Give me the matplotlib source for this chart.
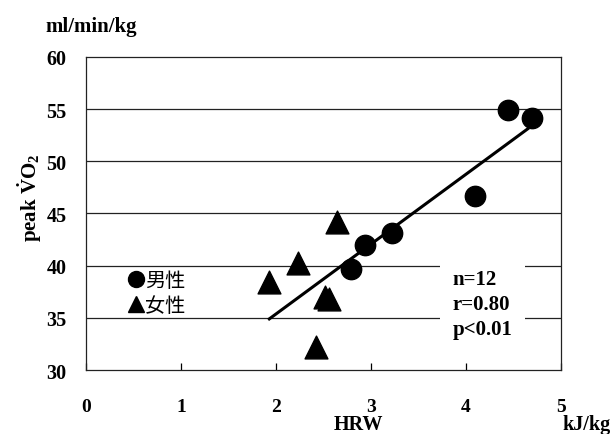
import matplotlib
matplotlib.use("Agg")
import matplotlib.pyplot as plt
from matplotlib.lines import Line2D

# ── Data ────────────────────────────────────────────────────────────────────
male_hrw = [4.44, 4.70, 4.10, 3.22, 2.94, 2.79]
male_vo2 = [54.9, 54.1, 46.7, 43.1, 42.0, 39.7]
female_hrw = [2.64, 2.23, 1.93, 2.52, 2.56, 2.42]
female_vo2 = [44.2, 40.3, 38.4, 37.0, 36.8, 32.2]
fit_x = [1.93, 4.65]
fit_y = [34.9, 53.1]
x_ticks = [0, 1, 2, 3, 4, 5]
y_ticks = [30, 35, 40, 45, 50, 55, 60]
legend_labels = ["男性", "女性"]
stats_text = "n=12\nr=0.80\np<0.01"

# ── Style ───────────────────────────────────────────────────────────────────
plt.rcParams["font.family"] = "Liberation Serif"
plt.rcParams["font.weight"] = "bold"
plt.rcParams["mathtext.fontset"] = "custom"
plt.rcParams["mathtext.rm"] = "Liberation Serif:bold"
plt.rcParams["mathtext.it"] = "Liberation Serif:bold"
plt.rcParams["mathtext.bf"] = "Liberation Serif:bold"

fig = plt.figure(figsize=(6.12, 4.35), dpi=100)
ax = fig.add_axes([0.1405, 0.147, 0.776, 0.72])

ax.set_xlim(0, 5)
ax.set_ylim(30, 60)

for y in y_ticks[1:-1]:
    ax.axhline(y, color="#222222", linewidth=0.9, zorder=1)

ax.plot(fit_x, fit_y, color="black", linewidth=2.2, zorder=3)
ax.scatter(male_hrw, male_vo2, s=215, marker="o", color="black", zorder=4)
ax.scatter(female_hrw, female_vo2, s=270, marker="^", color="black", zorder=4)

for sp in ax.spines.values():
    sp.set_linewidth(0.9)
    sp.set_color("#222222")

ax.set_xticks(x_ticks)
ax.set_yticks(y_ticks)
ax.tick_params(axis="x", direction="in", length=5, width=0.9, pad=20, labelsize=14)
ax.tick_params(axis="y", direction="in", length=0, pad=14, labelsize=14.5)
for lab in ax.get_xticklabels() + ax.get_yticklabels():
    lab.set_fontweight("bold")

# legend: marker glyphs roughly the size of the text, as in the source figure
handles = [
    Line2D([], [], linestyle="none", marker="o", markersize=11.5, color="black"),
    Line2D([], [], linestyle="none", marker="^", markersize=11.5, color="black"),
]
ax.legend(handles, legend_labels, loc="upper left",
          bbox_to_anchor=(0.072, 0.345), frameon=False,
          handletextpad=0.05, handlelength=0.8, labelspacing=0.2,
          borderaxespad=0,
          prop={"family": ["Noto Sans CJK JP"], "size": 14.5, "weight": "normal"})

ax.text(0.772, 0.212, stats_text, transform=ax.transAxes, ha="left", va="center",
        fontsize=15, fontweight="bold", linespacing=1.33, zorder=5,
        bbox=dict(facecolor="white", edgecolor="none", pad=9))

fig.text(0.149, 0.937, "ml/min/kg", ha="center", va="center", fontsize=15, fontweight="bold")
fig.text(0.585, 0.022, "HRW", ha="center", va="center", fontsize=14.5, fontweight="bold")
fig.text(0.958, 0.022, "kJ/kg", ha="center", va="center", fontsize=14.5, fontweight="bold")
fig.text(0.048, 0.545, r"peak $\dot{V}\mathrm{O}_2$", rotation=90, ha="center",
         va="center", fontsize=15, fontweight="bold")

fig.savefig("out.png", dpi=100)
